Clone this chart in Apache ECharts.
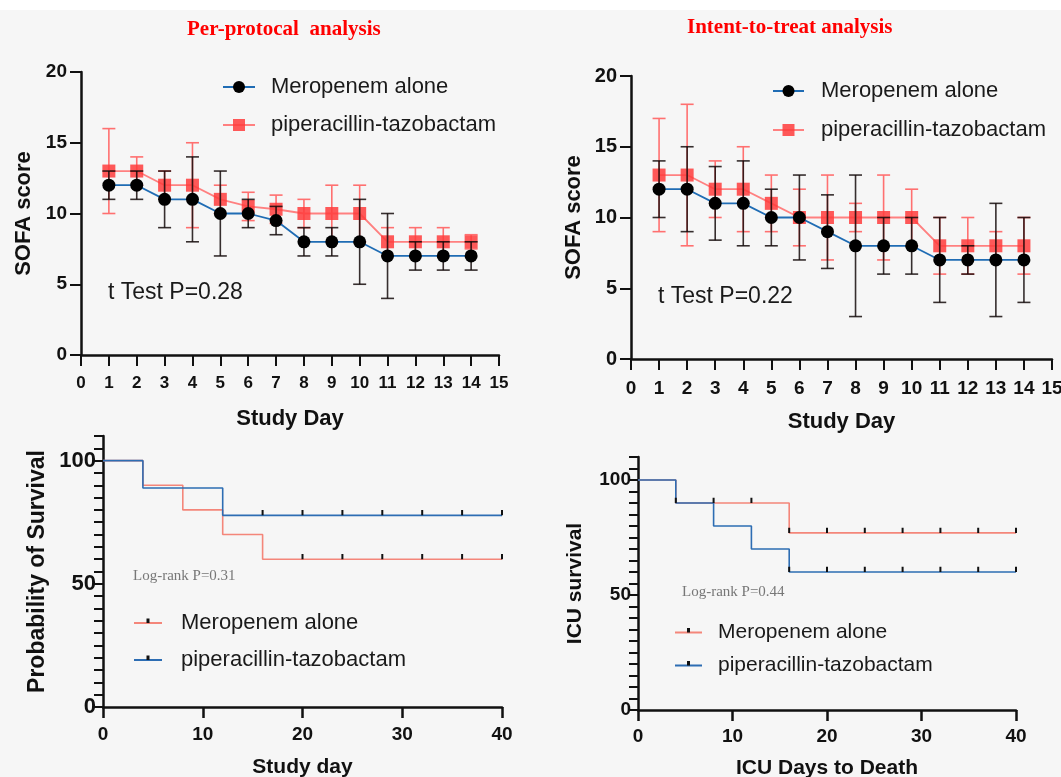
<!DOCTYPE html>
<html><head><meta charset="utf-8">
<script src="https://cdn.jsdelivr.net/npm/echarts@6/dist/echarts.min.js"></script>
<style>html,body{margin:0;padding:0;background:#f6f6f6}#c{width:1061px;height:777px}</style>
</head><body><div id="c"></div>
<script>
// ---------- SOFA score data ----------
const studyDays = [1,2,3,4,5,6,7,8,9,10,11,12,13,14];
const sofaTicks = [0,5,10,15,20];
// Per-protocol
const ppMeroMean = [12,12,11,11,10,10,9.5,8,8,8,7,7,7,7];
const ppMeroLow  = [11,11,9,8,7,9,8.5,7,7,5,4,6,6,6];
const ppMeroHigh = [13,13,13,14,13,11,10.5,9,9,11,10,8,8,8];
const ppPipMean  = [13,13,12,12,11,10.5,10.3,10,10,10,8,8,8,8];
const ppPipLow   = [10,12,11,9,10,9.5,9.3,9,8,8,7,7,7,7.5];
const ppPipHigh  = [16,14,13,15,12,11.5,11.3,11,12,12,9,9,9,8.5];
// Intent-to-treat
const ittMeroMean = [12,12,11,11,10,10,9,8,8,8,7,7,7,7];
const ittMeroLow  = [10,9,8.4,8,8,7,6.4,3,6,6,4,6,3,4];
const ittMeroHigh = [14,15,13.6,14,12,13,11.6,13,10,10,10,8,11,10];
const ittPipMean  = [13,13,12,12,11,10,10,10,10,10,8,8,8,8];
const ittPipLow   = [9,8,10,9,9,8,7,9,7,8,6,6,7,6];
const ittPipHigh  = [17,18,14,15,13,12,13,11,13,12,10,10,9,10];

// ---------- Kaplan-Meier data ----------
const survTicks = [0,50,100];
// Per-protocol
const ppKmMeroTimes = [0,4,8,12,16,20,24,28,32,36,40];
const ppKmMeroSurv  = [100,90,80,70,60,60,60,60,60,60,60];
const ppKmMeroCens  = [0,0,0,0,0,1,1,1,1,1,1];
const ppKmPipTimes  = [0,4,12,16,20,24,28,32,36,40];
const ppKmPipSurv   = [100,88.9,77.8,77.8,77.8,77.8,77.8,77.8,77.8,77.8];
const ppKmPipCens   = [0,0,0,1,1,1,1,1,1,1];
// Intent-to-treat (ICU)
const ittKmMeroTimes = [0,4,8,12,16,20,24,28,32,36,40];
const ittKmMeroSurv  = [100,90,90,90,77,77,77,77,77,77,77];
const ittKmMeroCens  = [0,1,1,1,1,1,1,1,1,1,1];
const ittKmPipTimes  = [0,4,8,12,16,20,24,28,32,36,40];
const ittKmPipSurv   = [100,90,80,70,60,60,60,60,60,60,60];
const ittKmPipCens   = [0,0,0,0,1,1,1,1,1,1,1];

const MERO = 'Meropenem alone', PIP = 'piperacillin-tazobactam';
const FONT = '"Liberation Sans", Arial, sans-serif';
const SERIF = '"Liberation Serif", "DejaVu Serif", serif';
// censor tick: thin bar above the centre; zero-area sub-paths only widen the bounding box
const TICKPATH = 'path://M0,0H8V0H0Z M0,16H8V16H0Z M3,2H5V8H3Z';

function errRender(color, capW) {
  return function (params, api) {
    const x = api.value(0), lo = api.value(1), hi = api.value(2);
    const a = api.coord([x, hi]), b = api.coord([x, lo]);
    const st = {stroke: color, lineWidth: 1.6};
    return {type: 'group', children: [
      {type: 'line', shape: {x1: a[0], y1: a[1], x2: b[0], y2: b[1]}, style: st},
      {type: 'line', shape: {x1: a[0]-capW, y1: a[1], x2: a[0]+capW, y2: a[1]}, style: st},
      {type: 'line', shape: {x1: b[0]-capW, y1: b[1], x2: b[0]+capW, y2: b[1]}, style: st}
    ]};
  };
}
function errSeries(idx, low, high, color, z) {
  return {type: 'custom', xAxisIndex: idx, yAxisIndex: idx, silent: true, z: z, clip: false,
    renderItem: errRender(color, 6.5), encode: {x: 0, y: [1, 2]},
    data: studyDays.map((d, i) => [d, low[i], high[i]])};
}
function meanSeries(idx, name, mean, isMero) {
  return {type: 'line', name: name, xAxisIndex: idx, yAxisIndex: idx, silent: true,
    z: isMero ? 4 : 2,
    symbol: isMero ? 'circle' : 'rect', symbolSize: 13,
    itemStyle: {color: isMero ? '#000' : 'rgba(255,60,60,0.85)'},
    lineStyle: {color: isMero ? '#1f6cb4' : '#ff8080', width: 1.8},
    data: studyDays.map((d, i) => [d, mean[i]])};
}
function kmSeries(idx, name, times, surv, cens, color) {
  return {type: 'line', name: name, xAxisIndex: idx, yAxisIndex: idx, silent: true, step: 'end',
    symbol: TICKPATH, symbolSize: [8, 14],
    itemStyle: {color: '#111', borderWidth: 0}, lineStyle: {color: color, width: 1.6},
    data: times.map((t, i) => ({value: [t, surv[i]], symbol: cens[i] ? TICKPATH : 'none'}))};
}

const axLine = {show: true, lineStyle: {color: '#111', width: 2.5}};
function sofaX(idx, labelSize, gap) {
  return {gridIndex: idx, type: 'value', min: 0, max: 15, interval: 1,
    axisLine: axLine, axisTick: {length: 11, lineStyle: {width: 2, color: '#111'}},
    axisLabel: {fontSize: labelSize, fontWeight: 'bold', color: '#111', margin: 20, fontFamily: FONT},
    splitLine: {show: false},
    name: 'Study Day', nameLocation: 'middle', nameGap: gap,
    nameTextStyle: {fontSize: 22, fontWeight: 'bold', color: '#111', fontFamily: FONT}};
}
function sofaY(idx, labelSize) {
  return {gridIndex: idx, type: 'value', min: 0, max: 20, interval: 5,
    axisLine: axLine, axisTick: {length: 11, lineStyle: {width: 2, color: '#111'}},
    axisLabel: {fontSize: labelSize, fontWeight: 'bold', color: '#111', margin: 14, fontFamily: FONT},
    splitLine: {show: false},
    name: 'SOFA score', nameLocation: 'middle', nameGap: 46,
    nameTextStyle: {fontSize: 22, fontWeight: 'bold', color: '#111', fontFamily: FONT}};
}
function kmX(idx, name, labelMargin, gap) {
  return {gridIndex: idx, type: 'value', min: 0, max: 40, interval: 10,
    axisLine: axLine, axisTick: {length: 11, lineStyle: {width: 2.5, color: '#111'}},
    axisLabel: {fontSize: 19, fontWeight: 'bold', color: '#111', margin: labelMargin, fontFamily: FONT},
    splitLine: {show: false},
    name: name, nameLocation: 'middle', nameGap: gap,
    nameTextStyle: {fontSize: 21, fontWeight: 'bold', color: '#111', fontFamily: FONT}};
}
function kmY(idx, name, labelSize, nameSize, gap) {
  return {gridIndex: idx, type: 'value', min: 0, max: 110, interval: 5,
    axisLine: axLine, axisTick: {length: 9, lineStyle: {width: 2, color: '#111'}},
    axisLabel: {fontSize: labelSize, fontWeight: 'bold', color: '#111', margin: 7, fontFamily: FONT,
      formatter: v => (survTicks.indexOf(v) >= 0 ? String(v) : '')},
    splitLine: {show: false},
    name: name, nameLocation: 'middle', nameGap: gap,
    nameTextStyle: {fontSize: nameSize, fontWeight: 'bold', color: '#111', fontFamily: FONT}};
}
function legendAt(left, top, names, gap, iw, pad, fs) {
  return {left: left, top: top, padding: 0, orient: 'vertical', itemWidth: iw, itemHeight: 15, itemGap: gap,
    selectedMode: false, data: names, formatter: n => n.trim(),
    textStyle: {fontSize: fs, color: '#1a1a1a', fontFamily: FONT, padding: [0, 0, 0, pad]}};
}

const chart = echarts.init(document.getElementById('c'), null, {renderer: 'canvas'});
chart.setOption({
  animation: false,
  backgroundColor: '#f6f6f6',
  textStyle: {fontFamily: FONT},
  grid: [
    {left: 81, top: 72, width: 418, height: 283, outerBoundsMode: 'none'},
    {left: 631, top: 76, width: 421, height: 283, outerBoundsMode: 'none'},
    {left: 103, top: 436, width: 399, height: 271, outerBoundsMode: 'none'},
    {left: 638, top: 457, width: 378, height: 253, outerBoundsMode: 'none'}
  ],
  xAxis: [sofaX(0, 17, 53), sofaX(1, 19, 52), kmX(2, 'Study day', 18, 50), kmX(3, 'ICU Days to Death', 17, 48)],
  yAxis: [sofaY(0, 19), sofaY(1, 20), kmY(2, 'Probability of Survival', 22, 23, 54), kmY(3, 'ICU survival', 19, 21, 52)],
  legend: [
    legendAt(222, 76, [MERO, PIP], 16, 32, 11, 22),
    legendAt(772, 80, [MERO + ' ', PIP + ' '], 17, 31, 12, 22),
    legendAt(133, 612, [MERO + '  ', PIP + '  '], 15, 28, 14, 22),
    legendAt(674, 622, [MERO + '   ', PIP + '   '], 12, 27, 11, 21)
  ],
  series: [
    errSeries(0, ppPipLow, ppPipHigh, '#ff7070', 1),
    meanSeries(0, PIP, ppPipMean, false),
    errSeries(0, ppMeroLow, ppMeroHigh, 'rgba(20,10,10,0.85)', 3),
    meanSeries(0, MERO, ppMeroMean, true),

    errSeries(1, ittPipLow, ittPipHigh, '#ff7070', 1),
    meanSeries(1, PIP + ' ', ittPipMean, false),
    errSeries(1, ittMeroLow, ittMeroHigh, 'rgba(20,10,10,0.85)', 3),
    meanSeries(1, MERO + ' ', ittMeroMean, true),

    kmSeries(2, MERO + '  ', ppKmMeroTimes, ppKmMeroSurv, ppKmMeroCens, '#f4867a'),
    kmSeries(2, PIP + '  ', ppKmPipTimes, ppKmPipSurv, ppKmPipCens, '#2d6db3'),

    kmSeries(3, MERO + '   ', ittKmMeroTimes, ittKmMeroSurv, ittKmMeroCens, '#f4867a'),
    kmSeries(3, PIP + '   ', ittKmPipTimes, ittKmPipSurv, ittKmPipCens, '#2d6db3')
  ],
  graphic: [
    {type: 'rect', left: 0, top: 0, shape: {width: 1061, height: 10}, style: {fill: '#ffffff'}, z: -10, silent: true},
    {type: 'text', left: 187, top: 19, style: {text: 'Per-protocal  analysis', fontSize: 21, fontWeight: 'bold', fill: '#ff0000', fontFamily: SERIF}},
    {type: 'text', left: 687, top: 17, style: {text: 'Intent-to-treat analysis', fontSize: 21, fontWeight: 'bold', fill: '#ff0000', fontFamily: SERIF}},
    {type: 'text', left: 108, top: 281, style: {text: 't Test P=0.28', fontSize: 23, fill: '#1a1a1a', fontFamily: FONT}},
    {type: 'text', left: 658, top: 285, style: {text: 't Test P=0.22', fontSize: 23, fill: '#1a1a1a', fontFamily: FONT}},
    {type: 'text', left: 133, top: 569, style: {text: 'Log-rank P=0.31', fontSize: 15, fill: '#777', fontFamily: SERIF}},
    {type: 'text', left: 682, top: 585, style: {text: 'Log-rank P=0.44', fontSize: 15, fill: '#777', fontFamily: SERIF}}
  ]
});
</script>
</body></html>
